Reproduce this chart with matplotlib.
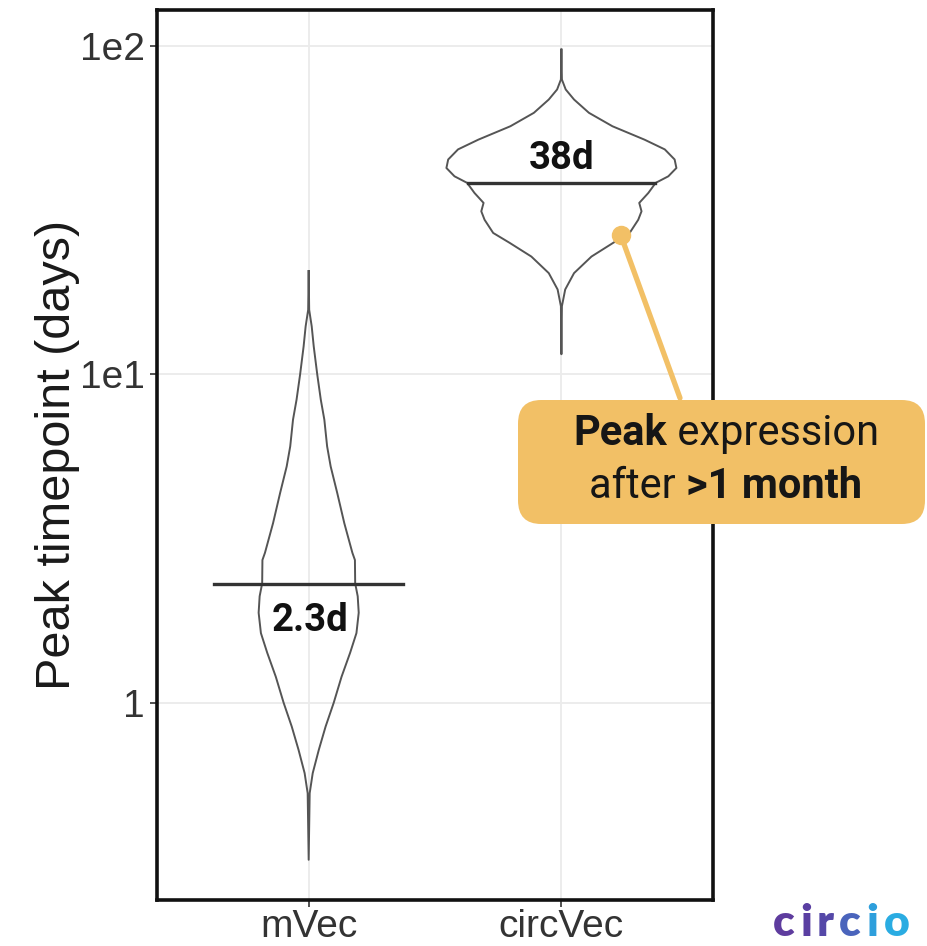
import matplotlib.pyplot as plt
from matplotlib.patches import FancyBboxPatch
from matplotlib.text import Annotation
import numpy as np

groups = ["mVec", "circVec"]
medians = [2.3, 38.3]
median_labels = ["2.3d", "38d"]
y_ticks = [1, 10, 100]
y_tick_labels = ["1", "1e1", "1e2"]

# violin outlines: value (days) and half width (category units)
mvec_days = [20.6, 15.7, 13.98, 12.15, 9.97, 8.36, 7.27, 6.03, 5.24, 4.35, 3.52, 2.86, 2.72,
             2.31, 2.11, 1.88, 1.63, 1.42, 1.20, 1.0, 0.847, 0.719, 0.611, 0.531, 0.333]
mvec_half = [0.0, 0.002, 0.012, 0.020, 0.034, 0.048, 0.062, 0.073, 0.087, 0.113, 0.141, 0.173,
             0.183, 0.184, 0.194, 0.198, 0.189, 0.164, 0.130, 0.099, 0.067, 0.040, 0.016,
             0.004, 0.0]
circ_days = [97.2, 78.8, 73.5, 68.5, 62.4, 56.8, 51.7, 48.3, 45.0, 42.4, 40.0, 38.2, 35.6,
             33.2, 31.3, 29.5, 26.9, 25.1, 22.8, 20.3, 18.1, 16.1, 11.5]
circ_half = [0.0, 0.002, 0.017, 0.050, 0.109, 0.202, 0.329, 0.409, 0.448, 0.455, 0.423, 0.373,
             0.344, 0.308, 0.317, 0.304, 0.270, 0.205, 0.119, 0.050, 0.015, 0.002, 0.0]
median_half = [0.375, 0.369]

callout_point = (2.234, 26.6)

fig = plt.figure(figsize=(9.27, 9.46), dpi=100)
ax = fig.add_axes([0.1694, 0.0486, 0.5998, 0.9408])

profiles = [(mvec_days, mvec_half), (circ_days, circ_half)]
for i, (days, half) in enumerate(profiles):
    pos = i + 1
    days = np.array(days)
    half = np.array(half)
    xs = np.concatenate([pos - half, (pos + half)[::-1]])
    ys = np.concatenate([days, days[::-1]])
    ax.plot(xs, ys, color="#555555", lw=1.4, zorder=3, solid_joinstyle="round")
    ax.plot([pos - median_half[i], pos + median_half[i]], [medians[i], medians[i]],
            color="#333333", lw=2.4, zorder=4)

ax.annotate(median_labels[0], (1, medians[0]), xytext=(1, -26), textcoords="offset points",
            ha="center", va="center", fontsize=27.5, fontweight="bold", family="Roboto",
            color="#111111", zorder=5)
ax.annotate(median_labels[1], (2, medians[1]), xytext=(0, 17), textcoords="offset points",
            ha="center", va="center", fontsize=27.5, fontweight="bold", family="Roboto",
            color="#111111", zorder=5)

ax.set_yscale("log")
ax.set_ylim(10 ** -0.6, 10 ** 2.108)
ax.set_xlim(0.4, 2.6)
ax.set_yticks(y_ticks)
ax.set_yticklabels(y_tick_labels)
ax.yaxis.set_minor_locator(plt.NullLocator())
ax.set_xticks([1, 2])
ax.set_xticklabels(groups)
ax.tick_params(labelsize=28, colors="#333333", length=5, width=1.2, pad=4)
ax.tick_params(axis="x", pad=1.5)
for lab in ax.get_xticklabels() + ax.get_yticklabels():
    lab.set_family("Liberation Sans")
ax.grid(True, color="#EBEBEB", lw=1.3, zorder=0)
ax.set_axisbelow(True)
for s in ax.spines.values():
    s.set_linewidth(2.6)
    s.set_color("#111111")
ax.set_ylabel("Peak timepoint (days)", fontsize=35, family="Liberation Sans", color="#1a1a1a",
              labelpad=0)

# callout
orange = "#F2C066"
ax.plot(*callout_point, marker="o", ms=13, color=orange, zorder=6, clip_on=False)
ax.annotate("", xy=callout_point, xytext=(680 / 927, 1 - 398 / 946), textcoords="figure fraction",
            arrowprops=dict(arrowstyle="-", color=orange, lw=3.8, shrinkA=0, shrinkB=0),
            annotation_clip=False, zorder=6)

box = FancyBboxPatch((518 / 927, 1 - 524 / 946), (925 - 518) / 927, 124 / 946,
                     boxstyle="round,pad=0,rounding_size=0.025", transform=fig.transFigure,
                     facecolor=orange, edgecolor="none", zorder=5)
fig.patches.append(box)

tkw = dict(fontsize=30, family="Roboto", color="#161616", zorder=7)
t1 = fig.text(573 / 927, 1 - 445 / 946, "Peak", fontweight="bold", va="baseline", **tkw)
fig.add_artist(Annotation(" expression", xy=(1, 0), xycoords=t1, va="bottom", ha="left",
                          annotation_clip=False, **tkw))
t2 = fig.text(589 / 927, 1 - 498 / 946, "after ", va="baseline", **tkw)
fig.add_artist(Annotation(">1 month", xy=(1, 0), xycoords=t2, va="bottom", ha="left",
                          fontweight="bold", annotation_clip=False, **tkw))

# logo
logo_letters = list("circio")
logo_colors = ["#5E3C9E", "#5A3FA2", "#5548A8", "#4A64BC", "#2E9FDC", "#2AACE2"]
lkw = dict(fontsize=32, fontweight="heavy", family="Lato")
prev = fig.text(773 / 927, 1 - 936 / 946, logo_letters[0], color=logo_colors[0],
                va="baseline", **lkw)
for ch, col in zip(logo_letters[1:], logo_colors[1:]):
    prev = fig.add_artist(Annotation(ch, xy=(1, 0), xycoords=prev, xytext=(3.8, 0),
                                     textcoords="offset points", va="bottom", ha="left",
                                     color=col, annotation_clip=False, **lkw))

fig.savefig("out.png", dpi=100)
